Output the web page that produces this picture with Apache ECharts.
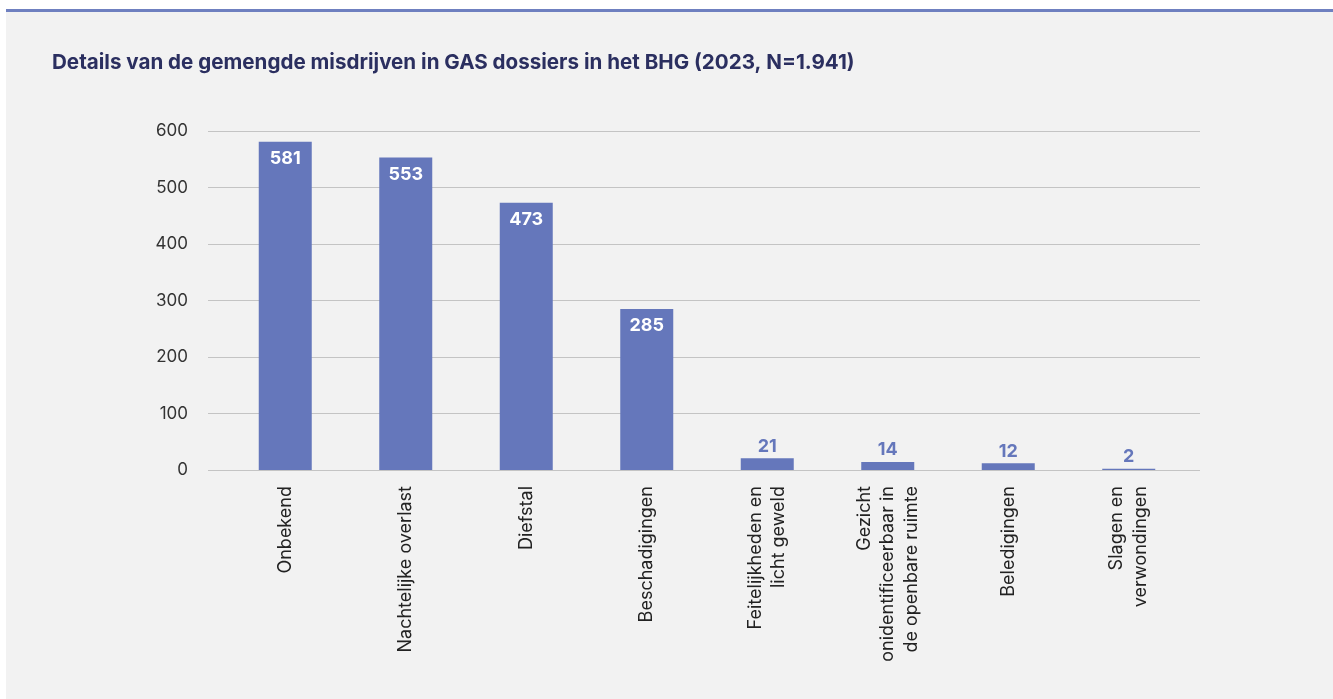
<!DOCTYPE html>
<html>
<head>
<meta charset="utf-8">
<script src="https://cdn.jsdelivr.net/npm/echarts@6/dist/echarts.min.js"></script>
<style>
  html, body { margin: 0; padding: 0; background: #ffffff; }
  #chart { width: 1333px; height: 699px; }
</style>
</head>
<body>
<div id="chart"></div>
<script>
// Categories of mixed offences and their counts (2023)
const categories = [
  'Onbekend',
  'Nachtelijke overlast',
  'Diefstal',
  'Beschadigingen',
  'Feitelijkheden en\nlicht geweld',
  'Gezicht\nonidentificeerbaar in\nde openbare ruimte',
  'Beledigingen',
  'Slagen en\nverwondingen'
];
const counts = [581, 553, 473, 285, 21, 14, 12, 2];
const yTicks = [0, 100, 200, 300, 400, 500, 600];

const BAR = '#6577bb';
const FONT = 'Inter, "Noto Sans", sans-serif';

// Large bars carry a white label inside the top; short bars a coloured label above
const barData = counts.map(v => ({
  value: v,
  label: v > 100
    ? { position: 'insideTop', distance: 8, color: '#ffffff' }
    : { position: 'top', distance: 3, color: BAR }
}));

const chart = echarts.init(document.getElementById('chart'));
chart.setOption({
  backgroundColor: '#ffffff',
  animation: false,
  graphic: [
    { type: 'rect', z: -10, shape: { x: 6, y: 10, width: 1327, height: 689 }, style: { fill: '#f2f2f2' } },
    { type: 'rect', z: -5, shape: { x: 6, y: 9, width: 1327, height: 3 }, style: { fill: '#6f80c0' } }
  ],
  title: {
    text: 'Details van de gemengde misdrijven in GAS dossiers in het BHG (2023, N=1.941)',
    left: 47,
    top: 47,
    textStyle: { fontFamily: FONT, fontSize: 20.6, fontWeight: 'bold', color: '#2b2f60' }
  },
  grid: [
    // value scale and gridlines
    { left: 208, right: 133, top: 131, bottom: 229 },
    // category band holding the bars
    { left: 225, right: 144, top: 131, bottom: 229 }
  ],
  xAxis: [
    { gridIndex: 0, type: 'category', data: categories, show: false },
    {
      gridIndex: 1, type: 'category', data: categories,
      axisLine: { show: false }, axisTick: { show: false },
      axisLabel: {
        interval: 0, rotate: 90, margin: 16,
        fontFamily: FONT, fontSize: 18, color: '#222222', lineHeight: 23.5
      }
    }
  ],
  yAxis: [
    {
      gridIndex: 0, type: 'value', min: 0, max: 600, interval: 100,
      axisLine: { show: false }, axisTick: { show: false },
      axisLabel: {
        margin: 20, fontFamily: FONT, fontSize: 17, color: '#333333',
        formatter: v => yTicks.includes(v) ? String(v) : ''
      },
      splitLine: { lineStyle: { color: '#c4c4c4', width: 1.2 } }
    },
    {
      gridIndex: 1, type: 'value', min: 0, max: 600, interval: 100,
      show: false, splitLine: { show: false }
    }
  ],
  series: [{
    type: 'bar',
    xAxisIndex: 1,
    yAxisIndex: 1,
    data: barData,
    barWidth: 53,
    itemStyle: { color: BAR },
    label: {
      show: true,
      fontFamily: FONT, fontSize: 18, fontWeight: 'bold'
    }
  }]
});
</script>
</body>
</html>
